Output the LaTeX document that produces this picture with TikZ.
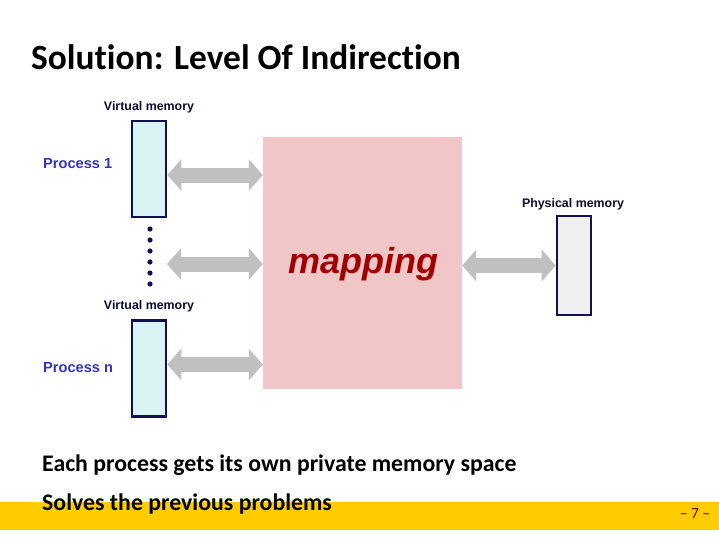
\documentclass[tikz,border=0pt]{standalone}
\usepackage{fontspec}
\setmainfont{Carlito}[Ligatures=NoCommon]
\newfontfamily\mapfont{Liberation Sans}
\usepackage{tikz}
\usetikzlibrary{arrows.meta,positioning,calc}
\definecolor{navy}{RGB}{16,16,80}
\definecolor{procblue}{RGB}{51,51,187}
\definecolor{vmfill}{RGB}{216,244,244}
\definecolor{pmfill}{RGB}{240,240,240}
\definecolor{mapbg}{RGB}{240,198,198}
\definecolor{mapred}{RGB}{160,0,0}
\definecolor{arrowgrey}{RGB}{192,192,192}
\definecolor{bandyellow}{RGB}{255,204,0}
\tikzset{
  mem/.style={draw=navy,line width=2.6pt,minimum width=34pt,minimum height=96pt,inner sep=0},
  vmem/.style={mem,fill=vmfill},
  pmem/.style={mem,fill=pmfill},
  memlbl/.style={font=\mapfont\fontsize{12.4}{14}\selectfont\bfseries,text=navy!60!black,
                 anchor=base,inner sep=0},
  proclbl/.style={font=\mapfont\fontsize{14.6}{17}\selectfont\bfseries,text=procblue,
                  anchor=base west,inner sep=0},
  body/.style={font=\fontsize{23.8}{28}\selectfont\bfseries,anchor=base west,inner sep=0},
  dbl/.style={arrowgrey,line width=15pt,
              {Triangle[length=14pt,width=31pt]}-{Triangle[length=14pt,width=31pt]}},
}

\begin{document}
\begin{tikzpicture}[x=1pt,y=-1pt]
  \useasboundingbox (0,0) rectangle (719,539);

  % ---------------- footer band ----------------
  \fill[bandyellow] (0,502) rectangle (719,530);
  \node[font=\fontsize{15.5}{17}\selectfont,text=mapred!80!black,inner sep=0] (pg) at (695,514) {-- 7 --};

  % ---------------- title ----------------
  \node[font=\fontsize{35.4}{40}\selectfont\bfseries,anchor=base west,inner sep=0] (title)
    at (31,69) {Solution: Level Of Indirection};

  % ---------------- mapping block ----------------
  \fill[mapbg] (263,137) rectangle (462,389);
  \node[minimum width=199pt,minimum height=252pt,inner sep=0] (map) at (362.5,263) {};
  \node[font=\mapfont\fontsize{36}{40}\selectfont\bfseries\itshape,text=mapred] (maptxt)
    at (363,264) {mapping};

  % ---------------- virtual memories ----------------
  \node[vmem] (vm1) at (149,169) {};
  \node[memlbl] (vm1lbl) at (149,110) {Virtual memory};
  \node[proclbl] (p1) at (43,168) {Process 1};

  \node[vmem] (vmn) at (149,368.5) {};
  \node[memlbl] (vmnlbl) at (149,309) {Virtual memory};
  \node[proclbl] (pn) at (43,372) {Process n};

  \foreach \i in {0,...,5}
    \fill[navy] (150,229+\i*11) circle (2.6pt);
  \coordinate (dots) at (167,264);

  % ---------------- physical memory ----------------
  \node[pmem,minimum height=99pt] (pm) at (574,265.5) {};
  \node[memlbl] (pmlbl) at (573,207) {Physical memory};

  % ---------------- grey double arrows ----------------
  \draw[dbl] ([yshift=-6pt]vm1.east) -- ([yshift=-6pt]vm1.east -| map.west);
  \draw[dbl] (dots) -- (dots -| map.west);
  \draw[dbl] (pm.west -| map.east) -- (pm.west);
  \draw[dbl] ([yshift=4pt]vmn.east) -- ([yshift=4pt]vmn.east -| map.west);

  % ---------------- bullets ----------------
  \node[body] (b1) at (42,471) {Each process gets its own private memory space};
  \node[body] (b2) at (42,510) {Solves the previous problems};
\end{tikzpicture}
\end{document}
